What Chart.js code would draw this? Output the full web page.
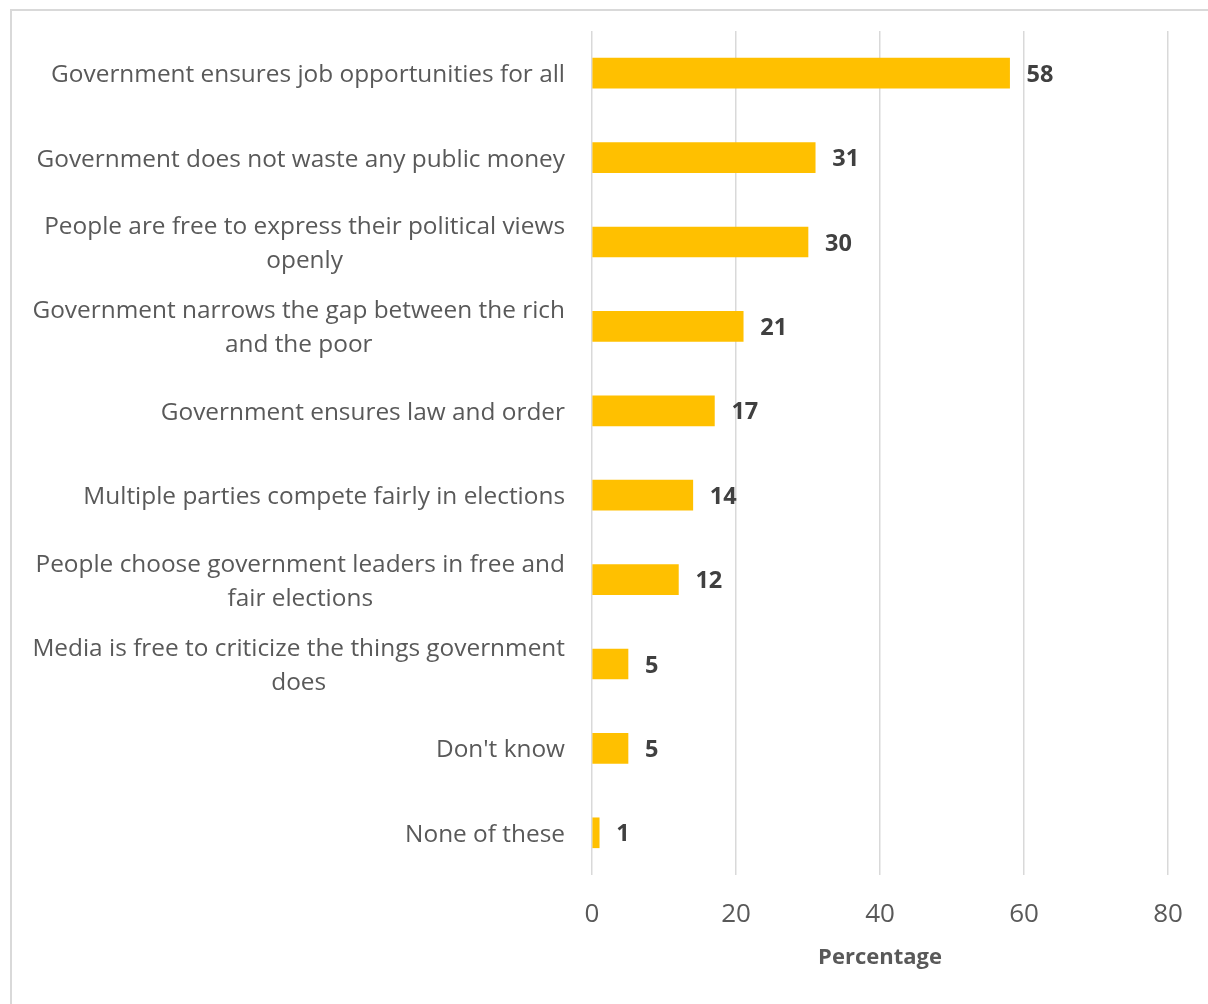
<!DOCTYPE html>
<html>
<head>
<meta charset="utf-8">
<script src="https://cdn.jsdelivr.net/npm/chart.js@4.4.1/dist/chart.umd.min.js"></script>
<style>
  html, body { margin: 0; padding: 0; background: #fff; }
  #wrap { position: relative; width: 1208px; height: 1004px; overflow: hidden; }
  #frame { position: absolute; left: 10px; top: 9px; width: 1220px; height: 1020px; border: 2px solid #d9d9d9; box-sizing: border-box; }
  #chart { position: absolute; left: 0; top: 0; }
</style>
</head>
<body>
<div id="wrap">
  <div id="frame"></div>
  <canvas id="chart" width="1208" height="1004"></canvas>
</div>
<script>
  // 카테고리 (줄바꿈된 라벨)
  const categories = [
    ['Government ensures job opportunities for all'],
    ['Government does not waste any public money'],
    ['People are free to express their political views', 'openly'],
    ['Government narrows the gap between the rich', 'and the poor'],
    ['Government ensures law and order'],
    ['Multiple parties compete fairly in elections'],
    ['People choose government leaders in free and', 'fair elections'],
    ['Media is free to criticize the things government', 'does'],
    ["Don't know"],
    ['None of these']
  ];
  const values = [58, 31, 30, 21, 17, 14, 12, 5, 5, 1];
  const xTicks = [0, 20, 40, 60, 80];
  const axisTitle = 'Percentage';

  const FONT = "'Open Sans', sans-serif";
  const TEXT = '#595959';

  // ===== 카테고리 라벨 + 값 라벨 =====
  const labelPlugin = {
    id: 'labels',
    afterDraw: function (chart) {
      var ctx = chart.ctx;
      var yScale = chart.scales.y;
      var xScale = chart.scales.x;
      var right = chart.chartArea.left - 27;
      var lh = 34;

      ctx.save();
      ctx.textBaseline = 'middle';
      ctx.fillStyle = TEXT;
      ctx.font = '24.4px ' + FONT;
      ctx.textAlign = 'center';
      categories.forEach(function (lines, i) {
        var yc = yScale.getPixelForValue(i) + 2;
        var maxW = Math.max.apply(null, lines.map(function (l) { return ctx.measureText(l).width; }));
        var cx = right - maxW / 2;
        lines.forEach(function (l, k) {
          ctx.fillText(l, cx, yc - (lines.length - 1) * lh / 2 + k * lh);
        });
      });

      ctx.fillStyle = '#404040';
      ctx.font = 'bold 23.5px ' + FONT;
      ctx.textAlign = 'left';
      values.forEach(function (v, i) {
        ctx.fillText(String(v), xScale.getPixelForValue(v) + 17, yScale.getPixelForValue(i) + 2);
      });
      ctx.restore();
    }
  };

  new Chart(document.getElementById('chart'), {
    type: 'bar',
    data: {
      labels: categories,
      datasets: [{ data: values, backgroundColor: '#FFC000', barThickness: 30 }]
    },
    options: {
      indexAxis: 'y',
      responsive: false,
      animation: false,
      layout: { padding: { top: 31, right: 40, left: 0, bottom: 0 } },
      plugins: { legend: { display: false }, tooltip: { enabled: false } },
      scales: {
        x: {
          min: 0, max: 80,
          afterBuildTicks: function (scale) {
            scale.ticks = xTicks.map(function (v) { return { value: v }; });
          },
          afterFit: function (scale) { scale.height = 129; },
          grid: { color: '#d9d9d9', lineWidth: 1.5, drawTicks: false },
          border: { display: false },
          ticks: { color: TEXT, font: { family: FONT, size: 26 }, padding: 24, maxRotation: 0 },
          title: {
            display: true, text: axisTitle, color: TEXT,
            font: { family: FONT, size: 22, weight: 'bold' },
            padding: { top: 0, bottom: 33 }
          }
        },
        y: {
          afterFit: function (scale) { scale.width = 592; },
          grid: { display: false },
          border: { display: false },
          ticks: { display: false }
        }
      }
    },
    plugins: [labelPlugin]
  });
</script>
</body>
</html>
